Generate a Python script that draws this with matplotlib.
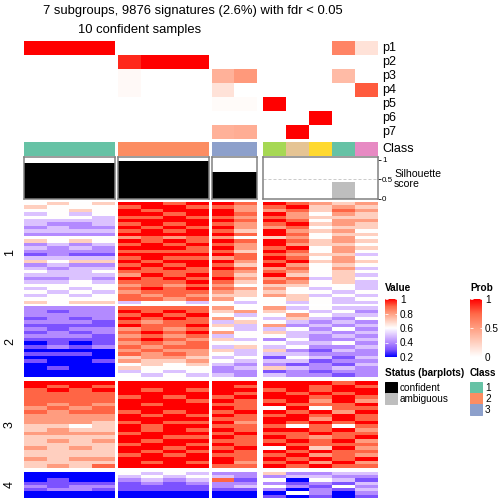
import numpy as np
import matplotlib
matplotlib.use("Agg")
import matplotlib.pyplot as plt
from matplotlib.colors import LinearSegmentedColormap, Normalize, to_rgb
from matplotlib.patches import Rectangle
from matplotlib.cm import ScalarMappable

plt.rcParams['font.family'] = ['Liberation Sans', 'DejaVu Sans']

W = H = 504

title_1 = "7 subgroups, 9876 signatures (2.6%) with fdr < 0.05"
title_2 = "10 confident samples"

group_sizes = [4, 4, 2, 5]
block_labels = ["1", "2", "3", "4"]
prob_labels = ["p1", "p2", "p3", "p4", "p5", "p6", "p7"]

# membership probability of each sample (columns) for p1..p7 (rows)
prob = np.array([
    [1, 1, 1, 1, 0, 0, 0, 0, 0, 0, 0, 0, 0, 0.62, 0.15],
    [0, 0, 0, 0, 0.9, 1, 1, 1, 0, 0, 0, 0, 0, 0, 0],
    [0, 0, 0, 0, 0.03, 0, 0, 0, 0.40, 0.52, 0, 0, 0, 0.35, 0],
    [0, 0, 0, 0, 0.03, 0, 0, 0, 0.15, 0, 0, 0, 0, 0, 0.78],
    [0, 0, 0, 0, 0, 0, 0, 0, 0.02, 0.02, 1, 0, 0, 0, 0],
    [0, 0, 0, 0, 0, 0, 0, 0, 0, 0, 0, 0, 1, 0, 0],
    [0, 0, 0, 0, 0, 0, 0, 0, 0.40, 0.42, 0, 1, 0, 0, 0],
])

class_colors = ["#66C2A5"] * 4 + ["#FC8D62"] * 4 + ["#8DA0CB"] * 2 + \
    ["#A6D854", "#E5C494", "#FFD92F", "#66C2A5", "#E78AC3"]

silhouette = [0.91, 0.91, 0.91, 0.91, 0.96, 0.98, 0.98, 0.98, 0.70, 0.68,
              0, 0, 0, 0.43, 0]
status = ["confident"] * 10 + ["ambiguous"] * 5
status_colors = {"confident": "black", "ambiguous": "#BEBEBE"}

legend_class = ["1", "2", "3"]
legend_class_colors = ["#66C2A5", "#FC8D62", "#8DA0CB"]

# heatmap rows, one character per sample: digit d means value 0.2 + 0.1*d
block1 = [
    "4545 8878 87 87656", "5444 7887 76 78565", "4454 8788 86 67576",
    "3434 8878 87 86465", "4443 7787 76 76555", "3333 8888 87 87466",
    "3223 7878 76 78565", "2322 8787 86 67455", "3333 7878 75 86564",
    "2222 8888 87 87455", "4444 6767 64 56464", "5454 8787 87 87565",
    "2323 7878 76 86554", "3232 8887 86 78465", "2222 7777 75 87464",
    "1211 8888 87 76553", "3333 7877 67 87464", "5455 8788 86 78565",
    "2322 7878 75 86454", "3233 8787 87 67463", "4334 7777 76 76454",
    "3333 6878 75 85453", "2232 8787 86 67354", "3343 7778 75 76453",
    "4444 6767 64 55443", "3434 7878 76 64343", "4343 6777 65 54434",
    "3434 7676 55 65343", "4444 7767 64 45434", "5455 3443 43 43433",
]
block2 = [
    "2222 7777 64 63433", "2122 8787 56 54342", "2222 7878 43 46433",
    "1212 8787 64 35324", "2221 7677 35 43232", "1111 8778 53 62323",
    "2122 6767 43 34242", "1212 7878 64 53323", "2221 6767 34 43232",
    "1111 7876 53 24223", "0101 6767 44 43342", "1212 7677 35 34223",
    "0000 6766 53 52132", "1110 7676 43 33222", "0000 5665 34 14313",
    "1001 6556 43 33122", "0000 4545 32 21213", "0100 5444 23 53232",
    "0000 3434 22 12122", "0000 4343 32 32212",
]
block3 = [
    "8888 8888 88 88878", "8787 8888 87 88787", "7878 8787 88 78788",
    "7777 8888 87 87878", "7777 7878 78 88787", "7777 8887 87 78686",
    "7676 8788 77 87778", "6767 8888 87 48477", "7677 7878 78 87868",
    "6666 8787 87 78787", "6666 8888 77 88687", "6665 7877 86 87878",
    "5545 8788 77 74747", "5655 8787 87 88786", "6666 7888 78 77877",
    "5555 8877 87 87678", "5656 8788 77 78786", "5555 7887 87 87777",
    "6565 8878 78 48586", "5555 8787 87 87877", "5555 7878 77 78676",
    "6566 8888 87 87878", "5555 8787 86 78686", "5657 8888 77 87877",
]
block4 = [
    "0000 4343 22 52233", "0000 3434 32 23322", "0100 2323 71 40431",
    "1111 1212 22 21213", "2122 1111 23 42142", "1221 1111 11 20213",
    "0000 0000 00 04202", "0000 0000 00 10101",
]
blocks = [block1, block2, block3, block4]


def decode(rows):
    return np.array([[0.2 + 0.1 * int(c) for c in r if c != " "] for r in rows])


value_cmap = LinearSegmentedColormap.from_list("val", [
    (0.0, "#0000FF"), (0.125, "#7C52FF"), (0.25, "#B38AFF"), (0.375, "#DCC4FF"),
    (0.5, "#FFFFFF"), (0.625, "#FFCFBF"), (0.75, "#FF9E81"), (0.875, "#FF6847"),
    (1.0, "#FF0000")])
prob_cmap = LinearSegmentedColormap.from_list("prob", [
    (0.0, "#FFFFFF"), (0.25, "#FFCFBF"), (0.5, "#FF9E81"), (0.75, "#FF6847"),
    (1.0, "#FF0000")])

# layout in pixels
col_x = [(24, 115), (118, 209), (212, 257), (263, 378)]
row_y = [(202, 304), (306, 377), (381, 468), (472, 498)]
prob_y = (41, 139)
class_y = (142, 156)
sil_y = (157, 199)

fig = plt.figure(figsize=(W / 72, H / 72), dpi=72)


def px_axes(x0, y0, x1, y1, off=True):
    ax = fig.add_axes([x0 / W, 1 - y1 / H, (x1 - x0) / W, (y1 - y0) / H])
    if off:
        ax.set_axis_off()
    return ax


starts = np.cumsum([0] + group_sizes)
for g, (x0, x1) in enumerate(col_x):
    cols = slice(starts[g], starts[g + 1])
    n = group_sizes[g]

    ax = px_axes(x0, prob_y[0], x1, prob_y[1])
    ax.imshow(prob[:, cols], cmap=prob_cmap, vmin=0, vmax=1,
              aspect="auto", interpolation="nearest")

    ax = px_axes(x0, class_y[0], x1, class_y[1])
    rgb = np.array([[to_rgb(c) for c in class_colors[cols]]])
    ax.imshow(rgb, aspect="auto", interpolation="nearest")

    ax = px_axes(x0, sil_y[0], x1, sil_y[1], off=False)
    ax.axhline(0.5, color="#CCCCCC", lw=1, ls=(0, (3, 2)), zorder=0)
    ax.bar(np.arange(n), silhouette[cols], width=1,
           color=[status_colors[s] for s in status[cols]], zorder=1)
    ax.set_xlim(-0.5, n - 0.5)
    ax.set_ylim(0, 1.07)
    ax.set_xticks([])
    for sp in ax.spines.values():
        sp.set_color("#7F7F7F")
        sp.set_linewidth(1.5)
    if g == 3:
        ax.yaxis.tick_right()
        ax.set_yticks([0, 0.5, 1])
        ax.set_yticklabels(["0", "0.5", "1"])
        ax.tick_params(axis="y", length=3, width=0.8, labelsize=8, pad=1)
    else:
        ax.set_yticks([])

    for b, (y0, y1) in enumerate(row_y):
        ax = px_axes(x0, y0, x1, y1)
        ax.imshow(decode(blocks[b])[:, cols], cmap=value_cmap, vmin=0.2, vmax=1,
                  aspect="auto", interpolation="nearest")

# text
fig.text(193 / W, 1 - 11 / H, title_1, ha="center", va="center", fontsize=13)
fig.text(140 / W, 1 - 30 / H, title_2, ha="center", va="center", fontsize=13)

for i, lab in enumerate(prob_labels + ["Class"]):
    y = prob_y[0] + 14 * i + 7 if i < 7 else (class_y[0] + class_y[1]) / 2
    fig.text(382 / W, 1 - y / H, lab, ha="left", va="center", fontsize=12.5)

fig.text(394 / W, 1 - 179 / H, "Silhouette\nscore", ha="left", va="center",
         fontsize=10.5, linespacing=0.95)

for b, (y0, y1) in enumerate(row_y):
    fig.text(10 / W, 1 - (y0 + y1) / 2 / H, block_labels[b], rotation=90,
             ha="center", va="center", fontsize=12.5)

# legends
fig.text(385 / W, 1 - 288 / H, "Value", fontweight="bold", fontsize=10,
         ha="left", va="center")
fig.text(470 / W, 1 - 288 / H, "Prob", fontweight="bold", fontsize=10,
         ha="left", va="center")

cax = px_axes(385, 299, 397, 357, off=False)
cb = fig.colorbar(ScalarMappable(Normalize(0.2, 1), value_cmap), cax=cax)
cb.set_ticks([0.2, 0.4, 0.6, 0.8, 1])
cb.set_ticklabels(["0.2", "0.4", "0.6", "0.8", "1"])
cb.outline.set_visible(False)
cax.tick_params(direction="in", color="white", length=2.5, labelsize=10, pad=3,
                left=True, right=True)

cax = px_axes(470, 299, 482, 357, off=False)
cb = fig.colorbar(ScalarMappable(Normalize(0, 1), prob_cmap), cax=cax)
cb.set_ticks([0, 0.5, 1])
cb.set_ticklabels(["0", "0.5", "1"])
cb.outline.set_visible(False)
cax.tick_params(direction="in", color="white", length=2.5, labelsize=10, pad=3,
                left=True, right=True)

lay = px_axes(0, 0, W, H)
lay.set_xlim(0, W)
lay.set_ylim(H, 0)

lay.text(385, 373, "Status (barplots)", fontweight="bold", fontsize=10,
         ha="left", va="center")
for i, s in enumerate(["confident", "ambiguous"]):
    lay.add_patch(Rectangle((385, 382 + 11 * i), 12, 11, color=status_colors[s]))
    lay.text(400, 388 + 11 * i, s, fontsize=10, ha="left", va="center")

lay.text(470, 373, "Class", fontweight="bold", fontsize=10, ha="left", va="center")
for i, (lab, c) in enumerate(zip(legend_class, legend_class_colors)):
    lay.add_patch(Rectangle((470, 382 + 11 * i), 12, 11, color=c))
    lay.text(485, 388 + 11 * i, lab, fontsize=10, ha="left", va="center")

fig.savefig("out.png", dpi=72)
